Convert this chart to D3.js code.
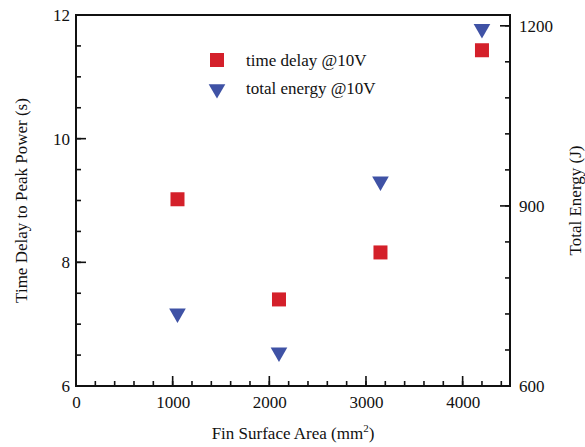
<!DOCTYPE html>
<html>
<head>
<meta charset="utf-8">
<script src="https://cdn.jsdelivr.net/npm/d3@7"></script>
<style>
  body { margin: 0; background: #fff; }
  text { font-family: "Liberation Serif", "Times New Roman", serif; fill: #111; }
</style>
</head>
<body>
<svg width="585" height="447"></svg>
<script>
var area = [1050, 2100, 3150, 4200];
var timeDelay = [9.02, 7.40, 8.16, 11.43];
var totalEnergy = [721, 656, 941, 1195];
var seriesNames = ['time delay @10V', 'total energy @10V'];
var xMajor = [0, 1000, 2000, 3000, 4000];
var yMajor = [6, 8, 10, 12];
var y2Major = [600, 900, 1200];

var margin = {top: 15, right: 75, bottom: 61, left: 76},
  width = 585 - margin.left - margin.right,
  height = 447 - margin.top - margin.bottom;

var svg = d3.select('svg')
  .append('g')
  .attr('transform', 'translate(' + margin.left + ',' + margin.top + ')');

var x = d3.scaleLinear().domain([0, 4490]).range([0, width]);
var y = d3.scaleLinear().domain([6, 12]).range([height, 0]);
var y2 = d3.scaleLinear().domain([600, 1218]).range([height, 0]);

var red = '#d4202a', blue = '#3f52a5';

// labels from d3 axes, tick marks drawn as inward lines
svg.append('g').attr('class', 'ax').attr('transform', 'translate(0,' + height + ')')
  .call(d3.axisBottom(x).tickValues(xMajor).tickSize(0).tickPadding(10).tickFormat(d3.format('d')));
svg.append('g').attr('class', 'ax')
  .call(d3.axisLeft(y).tickValues(yMajor).tickSize(0).tickPadding(6).tickFormat(d3.format('d')));
svg.append('g').attr('class', 'ax').attr('transform', 'translate(' + width + ',0)')
  .call(d3.axisRight(y2).tickValues(y2Major).tickSize(0).tickPadding(9).tickFormat(d3.format('d')));
svg.selectAll('.ax .domain').remove();
svg.selectAll('.ax .tick text').style('font-size', '17px').attr('fill', '#111');

var ticks = svg.append('g').attr('stroke', '#111').attr('stroke-width', 1.6);
function hTicks(vals, scale, x0, len) {
  ticks.selectAll(null).data(vals).enter().append('line')
    .attr('x1', x0).attr('x2', x0 + len)
    .attr('y1', function(d) { return scale(d); })
    .attr('y2', function(d) { return scale(d); });
}
function vTicks(vals, len) {
  ticks.selectAll(null).data(vals).enter().append('line')
    .attr('x1', function(d) { return x(d); })
    .attr('x2', function(d) { return x(d); })
    .attr('y1', height).attr('y2', height - len);
}
vTicks(d3.range(0, 4490, 200), 5);
vTicks(xMajor, 10);
hTicks(d3.range(6, 12.01, 0.5), y, 0, 5);
hTicks(yMajor, y, 0, 10);
hTicks(d3.range(600, 1201, 60), y2, width, -5);
hTicks(y2Major, y2, width, -10);

svg.append('rect')
  .attr('width', width).attr('height', height)
  .attr('fill', 'none').attr('stroke', '#111').attr('stroke-width', 2);

var tri = d3.symbol().type(d3.symbolTriangle).size(120);

svg.selectAll('.sq').data(area).enter().append('rect')
  .attr('x', function(d) { return x(d) - 7; })
  .attr('y', function(d, i) { return y(timeDelay[i]) - 7; })
  .attr('width', 14).attr('height', 14)
  .attr('fill', red);

svg.selectAll('.tri').data(area).enter().append('path')
  .attr('d', tri)
  .attr('transform', function(d, i) { return 'translate(' + x(d) + ',' + y2(totalEnergy[i]) + ') rotate(180)'; })
  .attr('fill', blue);

// legend
var legend = svg.append('g').attr('transform', 'translate(141,45)');
legend.append('rect').attr('x', -7).attr('y', -7).attr('width', 14).attr('height', 14).attr('fill', red);
legend.append('path').attr('d', tri).attr('transform', 'translate(0,29) rotate(180)').attr('fill', blue);
legend.selectAll('.lt').data(seriesNames).enter().append('text')
  .attr('x', 29)
  .attr('y', function(d, i) { return i * 28 + 6; })
  .style('font-size', '17px')
  .text(function(d) { return d; });

// axis titles
svg.append('text')
  .attr('transform', 'translate(-49,' + height / 2 + ') rotate(-90)')
  .attr('text-anchor', 'middle')
  .style('font-size', '17px')
  .text('Time Delay to Peak Power (s)');

svg.append('text')
  .attr('transform', 'translate(' + (width + 71) + ',' + height / 2 + ') rotate(-90)')
  .attr('text-anchor', 'middle')
  .style('font-size', '17px')
  .text('Total Energy (J)');

var xt = svg.append('text')
  .attr('x', width / 2).attr('y', height + 53)
  .attr('text-anchor', 'middle')
  .style('font-size', '17px');
xt.append('tspan').text('Fin Surface Area (mm');
xt.append('tspan').attr('dy', -7).style('font-size', '11px').text('2');
xt.append('tspan').attr('dy', 7).text(')');
</script>
</body>
</html>
